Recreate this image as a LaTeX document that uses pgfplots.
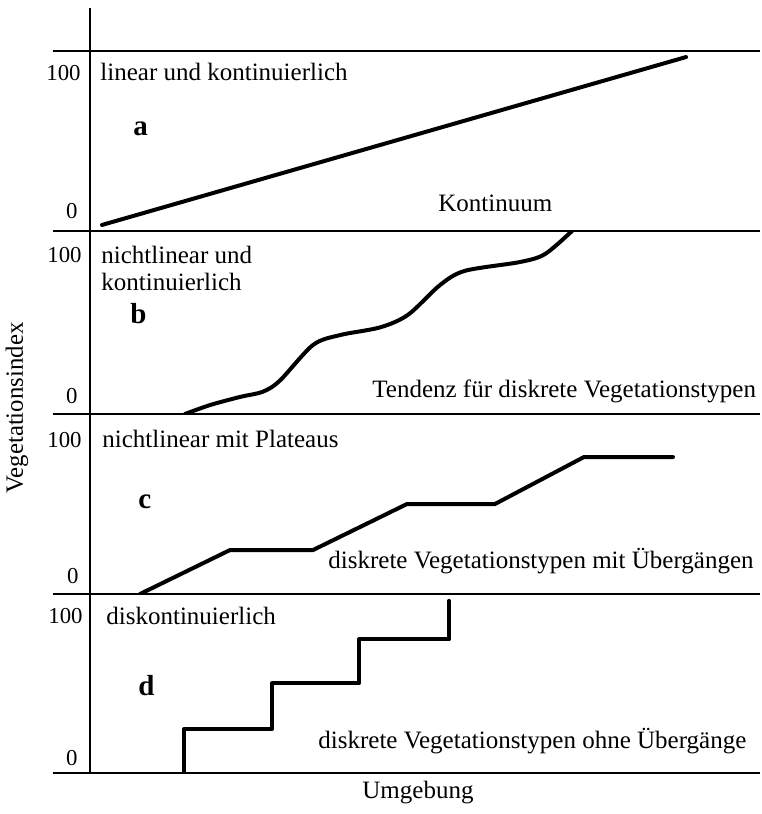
\documentclass[border=0pt]{standalone}
\usepackage{fontspec}
\setmainfont{Liberation Serif}
\usepackage{pgfplots}
\pgfplotsset{compat=1.18}
\pgfplotsset{
  panel/.style={
    scale only axis, width=353.5pt,
    xmin=-37, xmax=670, ymin=-14, ymax=117,
    axis x line=box, axis y line=none,
    xtick=\empty, ytick=\empty,
    axis line style={line width=1pt, black},
    anchor=north west},
  curve/.style={black, line width=2pt, line join=round, line cap=round, mark=none}
}
\begin{document}
\begin{tikzpicture}
% panel a
\begin{axis}[panel, height=90pt, at={(26.5pt,-25.5pt)}]
\addplot[curve] coordinates {(12,-9.6) (596,112.6)};
\end{axis}
% panel b
\begin{axis}[panel, height=91.5pt, at={(26.5pt,-115.5pt)}]
\addplot[curve, smooth, tension=0.5] coordinates {(95,-14) (120,-7.6) (150,-1.8) (173,2.0) (190,10) (223,35.4) (250,42.5) (290,48) (318,57) (350,78.3) (375,88.5) (430,94.8) (455,100.5) (482,117)};
\end{axis}
% panel c
\begin{axis}[panel, height=90pt, at={(26.5pt,-207pt)}]
\addplot[curve] coordinates {(50,-14) (140,18.0) (223,18.0) (317,51.5) (405,51.5) (494,85.7) (583,85.7)};
\end{axis}
% panel d
\begin{axis}[panel, height=89.5pt, at={(26.5pt,-297pt)}]
\addplot[curve] coordinates {(94,-14) (94,18) (182,18) (182,51.6) (269,51.6) (269,83.8) (359,83.8) (359,112)};
\end{axis}
\begin{scope}[x=0.5pt,y=-0.5pt]
\path[use as bounding box] (0,0) rectangle (760,814);
\draw[line width=1pt] (89.5,8) -- (89.5,773);
\tikzset{txt/.style={anchor=base west, inner sep=0pt, font=\fontsize{12.5}{13.5}\selectfont},
         tck/.style={anchor=base east, inner sep=0pt, font=\fontsize{11.4}{13}\selectfont},
         lab/.style={anchor=base west, inner sep=0pt, font=\bfseries\fontsize{14.5}{16}\selectfont}}
% a
\node[tck] at (81,80) {100};
\node[tck] at (78,218) {0};
\node[txt] at (100,80) {linear und kontinuierlich};
\node[lab] at (133,135) {a};
\node[txt] at (438,211) {Kontinuum};
% b
\node[tck] at (82,262) {100};
\node[tck] at (78,403) {0};
\node[txt] at (101,263) {nichtlinear und};
\node[txt] at (101,290) {kontinuierlich};
\node[lab] at (130,323) {b};
\node[txt] at (372,397) {Tendenz für diskrete Vegetationstypen};
% c
\node[tck] at (82,447) {100};
\node[tck] at (79,583) {0};
\node[txt] at (102,447) {nichtlinear mit Plateaus};
\node[lab] at (138,508) {c};
\node[txt] at (328,568) {diskrete Vegetationstypen mit Übergängen};
% d
\node[tck] at (83,623) {100};
\node[tck] at (78,765) {0};
\node[txt] at (106,624) {diskontinuierlich};
\node[lab] at (138,695) {d};
\node[txt] at (318,748) {diskrete Vegetationstypen ohne Übergänge};
% axis titles
\node[txt] at (362,798) {Umgebung};
\node[anchor=center, inner sep=0pt, rotate=90, font=\fontsize{12.4}{13.5}\selectfont] at (17,408) {Vegetationsindex};
\end{scope}
\end{tikzpicture}
\end{document}
